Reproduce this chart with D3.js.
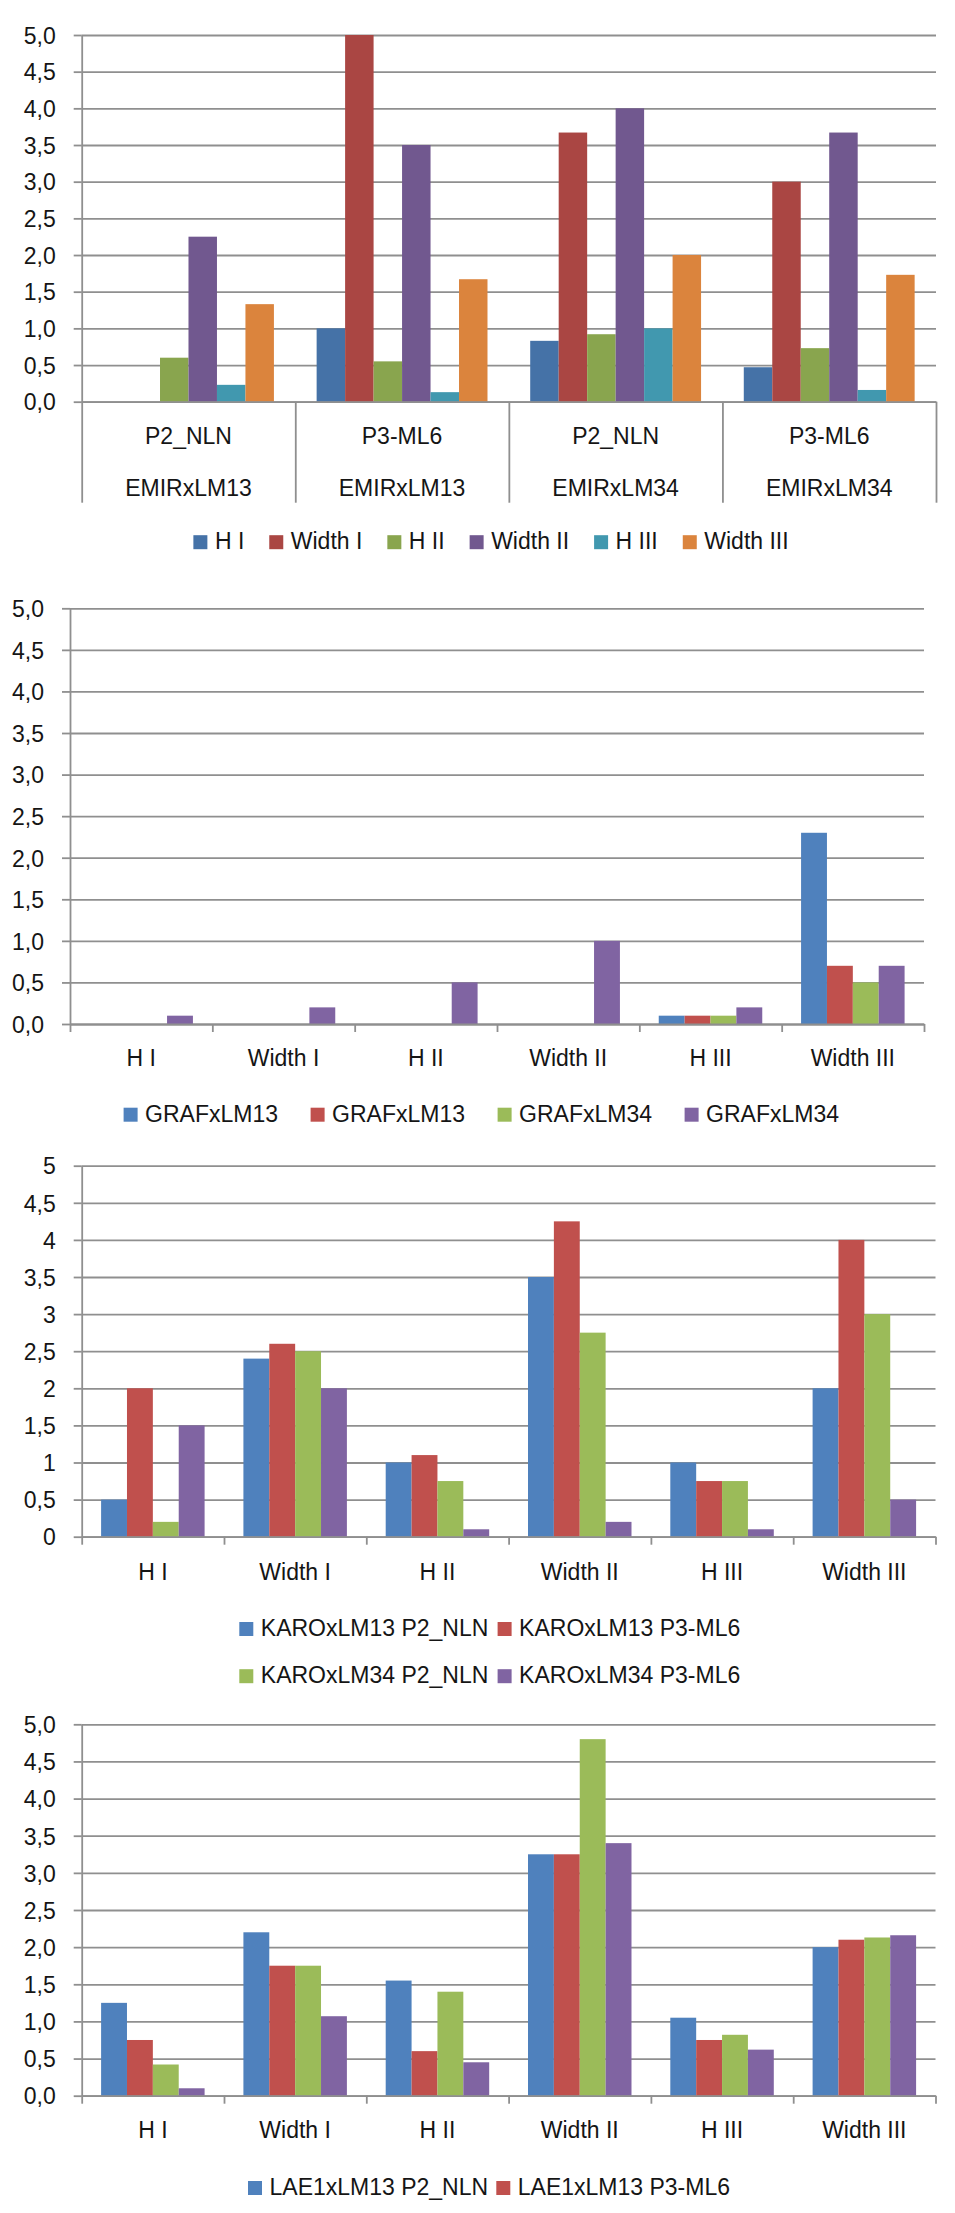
<!DOCTYPE html>
<html>
<head>
<meta charset="utf-8">
<script src="https://cdn.jsdelivr.net/npm/d3@7"></script>
<style>
  html, body { margin: 0; padding: 0; background: #fff; }
  svg text { font-family: "Liberation Sans", Arial, sans-serif; font-size: 23px; fill: #151515; }
</style>
</head>
<body>
<svg id="chart" width="955" height="2213"></svg>
<script>
// ---------- Panel 1: EMIR crosses by plant ----------
const emirPlants  = ["P2_NLN", "P3-ML6", "P2_NLN", "P3-ML6"];
const emirCrosses = ["EMIRxLM13", "EMIRxLM13", "EMIRxLM34", "EMIRxLM34"];
const emirSeries  = ["H I", "Width I", "H II", "Width II", "H III", "Width III"];
const emirHI       = [0,    1.0,  0.83, 0.47];
const emirWidthI   = [0,    5.0,  3.67, 3.0];
const emirHII      = [0.6,  0.55, 0.92, 0.73];
const emirWidthII  = [2.25, 3.5,  4.0,  3.67];
const emirHIII     = [0.23, 0.13, 1.0,  0.16];
const emirWidthIII = [1.33, 1.67, 2.0,  1.73];

// ---------- Shared trait categories for panels 2-4 ----------
const traits = ["H I", "Width I", "H II", "Width II", "H III", "Width III"];

// ---------- Panel 2: GRAF crosses ----------
const grafSeries = ["GRAFxLM13", "GRAFxLM13", "GRAFxLM34", "GRAFxLM34"];
const graf13a = [0,   0,   0,   0,   0.1, 2.3];
const graf13b = [0,   0,   0,   0,   0.1, 0.7];
const graf34a = [0,   0,   0,   0,   0.1, 0.5];
const graf34b = [0.1, 0.2, 0.5, 1.0, 0.2, 0.7];

// ---------- Panel 3: KARO crosses ----------
const karoSeries = ["KAROxLM13 P2_NLN", "KAROxLM13 P3-ML6", "KAROxLM34 P2_NLN", "KAROxLM34 P3-ML6"];
const karo13P2 = [0.5, 2.4, 1.0,  3.5,  1.0,  2.0];
const karo13P3 = [2.0, 2.6, 1.1,  4.25, 0.75, 4.0];
const karo34P2 = [0.2, 2.5, 0.75, 2.75, 0.75, 3.0];
const karo34P3 = [1.5, 2.0, 0.1,  0.2,  0.1,  0.5];

// ---------- Panel 4: LAE1 crosses ----------
const laeSeries = ["LAE1xLM13 P2_NLN", "LAE1xLM13 P3-ML6", "LAE1xLM34 P2_NLN", "LAE1xLM34 P3-ML6"];
const lae13P2 = [1.25, 2.2,  1.55, 3.25, 1.05, 2.0];
const lae13P3 = [0.75, 1.75, 0.6,  3.25, 0.75, 2.1];
const lae34P2 = [0.42, 1.75, 1.4,  4.8,  0.82, 2.13];
const lae34P3 = [0.1,  1.07, 0.45, 3.4,  0.62, 2.16];

const yTicks = [0, 0.5, 1, 1.5, 2, 2.5, 3, 3.5, 4, 4.5, 5];

// ---------- Styling ----------
const paletteA = ["#4572A7", "#AA4643", "#89A54E", "#71588F", "#4198AF", "#DB843D"];
const paletteB = ["#4F81BD", "#C0504D", "#9BBB59", "#8064A2"];
const GRID = "#8f8f8f";

const locale = d3.formatLocale({ decimal: ",", thousands: ".", grouping: [3], currency: ["", ""] });
const fmtOne = locale.format(".1f");
const fmtTrim = v => Number.isInteger(v) ? String(v) : fmtOne(v);

const svg = d3.select("#chart");

function barChart(cfg) {
  const g = svg.append("g");
  const nCat = cfg.categories.length;
  const y = d3.scaleLinear().domain([0, 5]).range([cfg.y0, cfg.y5]);
  const x0 = d3.scaleBand().domain(d3.range(nCat)).range([cfg.left, cfg.right]);
  const x1 = d3.scaleBand().domain(d3.range(cfg.series.length))
    .range([0, x0.bandwidth()]).paddingInner(0).paddingOuter(0.75);
  const xEdge = d3.scaleLinear().domain([0, nCat]).range([cfg.left, cfg.right]);

  // horizontal gridlines
  g.append("g").attr("transform", `translate(${cfg.left},0)`)
    .call(d3.axisLeft(y).tickValues(yTicks).tickSize(-(cfg.right - cfg.left)).tickFormat(""))
    .call(a => a.select(".domain").remove())
    .call(a => a.selectAll("line").attr("stroke", GRID).attr("stroke-width", 1.8));

  // clustered bars
  cfg.series.forEach((s, si) => {
    g.append("g").selectAll("rect").data(s.values).join("rect")
      .attr("x", (d, i) => x0(i) + x1(si))
      .attr("width", x1.bandwidth())
      .attr("y", d => y(d))
      .attr("height", d => y(0) - y(d))
      .attr("fill", cfg.colors[si]);
  });

  // value axis with labels
  g.append("g").attr("transform", `translate(${cfg.left},0)`)
    .call(d3.axisLeft(y).tickValues(yTicks).tickSize(8).tickSizeOuter(0).tickPadding(18).tickFormat(cfg.yFormat))
    .call(a => a.select(".domain").attr("stroke", GRID).attr("stroke-width", 1.8))
    .call(a => a.selectAll(".tick line").attr("stroke", GRID).attr("stroke-width", 1.8))
    .call(a => a.selectAll("text").attr("font-family", null).attr("font-size", null)
      .attr("fill", "#151515").attr("dy", "0.36em"));

  // category axis: baseline with boundary ticks
  g.append("g").attr("transform", `translate(0,${cfg.y0})`)
    .call(d3.axisBottom(xEdge).tickValues(d3.range(nCat + 1)).tickSize(cfg.tickLen).tickSizeOuter(0).tickFormat(""))
    .call(a => a.select(".domain").attr("stroke", GRID).attr("stroke-width", 1.8))
    .call(a => a.selectAll(".tick line").attr("stroke", GRID).attr("stroke-width", 1.8));

  // category labels (one or two rows)
  cfg.labelRows.forEach((row, ri) => {
    g.append("g").selectAll("text").data(row).join("text")
      .attr("x", (d, i) => x0(i) + x0.bandwidth() / 2)
      .attr("y", cfg.y0 + cfg.labelDy[ri])
      .attr("text-anchor", "middle")
      .text(d => d);
  });

  // legend
  const lg = g.append("g");
  if (cfg.legendMode === "flow") {
    const items = lg.selectAll("g").data(cfg.legendItems).join("g");
    items.append("rect").attr("width", 14).attr("height", 14)
      .attr("y", cfg.y0 + cfg.legendDy[0] - 14)
      .attr("fill", (d, i) => cfg.colors[i]);
    items.append("text").attr("x", 21.5).attr("y", cfg.y0 + cfg.legendDy[0]).text(d => d);
    const widths = [];
    items.each(function () { widths.push(d3.select(this).select("text").node().getComputedTextLength()); });
    const gap = 25;
    const total = d3.sum(widths, w => 21.5 + w) + gap * (widths.length - 1);
    let cx = cfg.legendCenter - total / 2;
    items.each(function (d, i) {
      d3.select(this).attr("transform", `translate(${cx},0)`);
      cx += 21.5 + widths[i] + gap;
    });
  } else {
    cfg.legendItems.forEach((name, i) => {
      const col = i % cfg.legendCols, row = Math.floor(i / cfg.legendCols);
      const lx = cfg.legendX + col * cfg.legendColW;
      const ly = cfg.y0 + cfg.legendDy[row];
      lg.append("rect").attr("x", lx).attr("y", ly - 14).attr("width", 14).attr("height", 14)
        .attr("fill", cfg.colors[i]);
      lg.append("text").attr("x", lx + 21.5).attr("y", ly).text(name);
    });
  }
}

// Panel 1
barChart({
  categories: emirPlants,
  labelRows: [emirPlants, emirCrosses],
  labelDy: [42.5, 94],
  series: [emirHI, emirWidthI, emirHII, emirWidthII, emirHIII, emirWidthIII].map((v, i) => ({ name: emirSeries[i], values: v })),
  colors: paletteA,
  left: 81.7, right: 936, y0: 401.7, y5: 35,
  tickLen: 101,
  yFormat: fmtOne,
  legendMode: "flow", legendItems: emirSeries, legendDy: [147.5], legendCenter: 491
});

// Panel 2
barChart({
  categories: traits,
  labelRows: [traits],
  labelDy: [42],
  series: [graf13a, graf13b, graf34a, graf34b].map((v, i) => ({ name: grafSeries[i], values: v })),
  colors: paletteB,
  left: 70, right: 924, y0: 1024, y5: 608.3,
  tickLen: 8,
  yFormat: fmtOne,
  legendMode: "cols", legendItems: grafSeries, legendCols: 4, legendX: 123.6, legendColW: 187, legendDy: [97.7]
});

// Panel 3
barChart({
  categories: traits,
  labelRows: [traits],
  labelDy: [43.3],
  series: [karo13P2, karo13P3, karo34P2, karo34P3].map((v, i) => ({ name: karoSeries[i], values: v })),
  colors: paletteB,
  left: 81.7, right: 935.5, y0: 1536.7, y5: 1165.7,
  tickLen: 8,
  yFormat: fmtTrim,
  legendMode: "cols", legendItems: karoSeries, legendCols: 2, legendX: 239.3, legendColW: 258.3, legendDy: [99.3, 146.5]
});

// Panel 4 (only the first legend row fits on the page)
barChart({
  categories: traits,
  labelRows: [traits],
  labelDy: [42.6],
  series: [lae13P2, lae13P3, lae34P2, lae34P3].map((v, i) => ({ name: laeSeries[i], values: v })),
  colors: paletteB,
  left: 81.7, right: 935.5, y0: 2095.7, y5: 1724.3,
  tickLen: 8,
  yFormat: fmtOne,
  legendMode: "cols", legendItems: laeSeries.slice(0, 2), legendCols: 2, legendX: 248, legendColW: 248.3, legendDy: [99.3]
});
</script>
</body>
</html>
